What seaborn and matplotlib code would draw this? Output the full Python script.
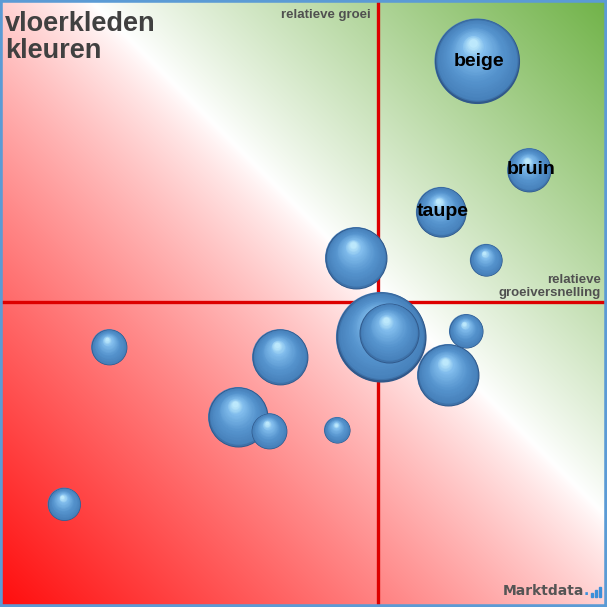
import numpy as np
import pandas as pd
import matplotlib
matplotlib.use("Agg")
import matplotlib.pyplot as plt
from matplotlib.patches import Rectangle
import seaborn as sns

# ---- data ----
kleuren = ["beige", "bruin", "taupe", "", "", "", "", "", "", "", "", "", "", "", ""]
groeiversnelling = [0.99, 1.51, 0.63, -0.22, 1.08, 0.03, 0.11, 0.88, 0.70, -0.98, -2.69, -1.40, -1.09, -0.41, -3.14]
groei = [2.41, 1.32, 0.90, 0.44, 0.42, -0.35, -0.31, -0.29, -0.73, -0.55, -0.45, -1.15, -1.29, -1.28, -2.02]
omzet = [18.1, 4.8, 6.3, 9.6, 2.6, 20.3, 9.0, 2.9, 9.6, 7.8, 3.2, 9.0, 3.2, 1.7, 2.7]
titel = "vloerkleden\nkleuren"
as_x = "relatieve\ngroeiversnelling"
as_y = "relatieve groei"

df = pd.DataFrame({"kleur": kleuren, "x": groeiversnelling, "y": groei, "omzet": omzet})

sns.set_theme(style="white")
plt.rcParams["font.family"] = ["Liberation Sans", "DejaVu Sans"]

W = 607
fig = plt.figure(figsize=(W / 100, W / 100), dpi=100)
ax = fig.add_axes([0, 0, 1, 1])
xlim = (-3.78, 2.29)
ylim = (-3.05, 3.02)
ax.set_xlim(*xlim)
ax.set_ylim(*ylim)
ax.axis("off")

# ---- background gradient (red bottom-left, white diagonal, green top-right) ----
p = np.arange(W) + 0.5
PX, PY = np.meshgrid(p, p)
d = PY - PX + 90
tr = np.clip(d / 697.0, 0, 1) ** 0.82
tg = np.clip(-d / 517.0, 0, 1) ** 0.92
red = np.array([1.0, 0.05, 0.05])
green = np.array([0.44, 0.70, 0.28])
img = np.ones((W, W, 3))
img = img * (1 - tr[..., None]) + red * tr[..., None]
img = img * (1 - tg[..., None]) + green * tg[..., None]
ax.imshow(img, extent=(xlim[0], xlim[1], ylim[0], ylim[1]), origin="upper",
          aspect="auto", zorder=0, interpolation="bilinear")

# ---- quadrant lines ----
ax.axvline(0, color="#dd0000", lw=2.4, zorder=1)
ax.axhline(0, color="#dd0000", lw=2.4, zorder=1)

# ---- bubbles ----
k = (2 * 10 * 0.72) ** 2  # points^2 per omzet unit
vmin, vmax = min(omzet), max(omzet)
sns.scatterplot(data=df, x="x", y="y", size="omzet", sizes=(k * vmin, k * vmax),
                size_norm=(vmin, vmax), color="#4a82bd", edgecolor="none",
                legend=False, ax=ax, zorder=2)

stops_t = [0.0, 0.05, 0.4, 0.8, 1.0]
stops_c = np.array([[48, 88, 138], [70, 128, 186], [86, 148, 206],
                    [128, 188, 236], [188, 232, 252]]) / 255.0


def col(t):
    return [np.interp(t, stops_t, stops_c[:, i]) for i in range(3)]


order = np.argsort(-np.array(omzet), kind="stable")
z = 3
n = 32
for i in order:
    x0, y0, v = groeiversnelling[i], groei[i], omzet[i]
    r = 0.1 * np.sqrt(v)  # radius in data units
    for j in range(n):
        t = j / (n - 1)
        rad = r * (1 - 0.9 * t)
        cx = x0 - 0.10 * r * t
        cy = y0 + 0.42 * r * t
        ax.scatter([cx], [cy], s=(2 * rad * 72) ** 2, color=col(t), lw=0, zorder=z)
    z += 1
    if kleuren[i]:
        ax.text(x0 + 0.02, y0, kleuren[i], ha="center", va="center", fontsize=14,
                fontweight="bold", color="black", zorder=z)
        z += 1

# ---- texts ----
ax.text(5 / W, 1 - 11 / W, titel, transform=ax.transAxes, ha="left", va="top",
        fontsize=19.5, fontweight="bold", color="#404040", linespacing=1.07, zorder=50)
ax.text(371 / W, 1 - 9 / W, as_y, transform=ax.transAxes, ha="right", va="top",
        fontsize=9.5, fontweight="bold", color="#505050", zorder=50)
ax.text(601 / W, 1 - 299 / W, as_x, transform=ax.transAxes, ha="right", va="bottom",
        multialignment="right", fontsize=9.5, fontweight="bold", color="#505050",
        linespacing=1.15, zorder=50)

# ---- logo ----
ax.text(584 / W, 1 - 591 / W, "Marktdata", transform=ax.transAxes, ha="right",
        va="center", fontsize=10, fontweight="bold", color="#555555",
        family=["DejaVu Sans"], zorder=50)
ax.text(584 / W, 1 - 591 / W, ".", transform=ax.transAxes, ha="left",
        va="center", fontsize=10, fontweight="bold", color="#3b8fd9",
        family=["DejaVu Sans"], zorder=50)
for bx, bh in [(591, 4), (595, 7), (599, 10)]:
    fig.patches.append(Rectangle((bx / W, 1 - 597 / W), 2 / W, bh / W,
                                 transform=fig.transFigure, color="#3b8fd9", zorder=50))

# ---- border ----
fig.patches.append(Rectangle((0, 0), 1, 1, transform=fig.transFigure, fill=False,
                             edgecolor="#5b9bd5", lw=4, zorder=60))

fig.savefig("out.png", dpi=100)
